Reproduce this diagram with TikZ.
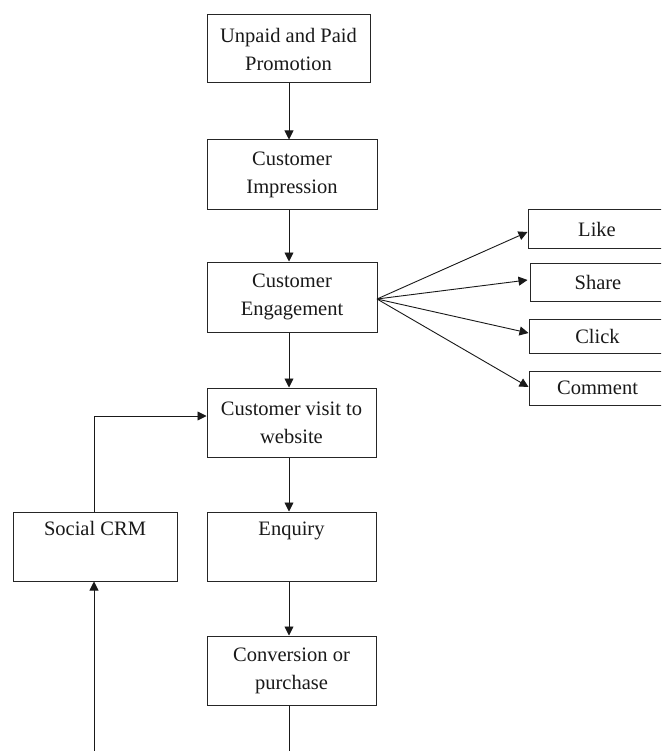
\documentclass[tikz,border=0pt]{standalone}
\usepackage{fontspec}
\setmainfont{Liberation Serif}
\usetikzlibrary{arrows.meta,calc}
\tikzset{
  box/.style={draw=black!85, line width=1pt, rectangle, align=center, inner sep=2pt,
    font=\fontsize{20.5pt}{28pt}\selectfont, text=black!90},
  arr/.style={line width=0.9pt, draw=black!90, -{Triangle[length=9pt,width=9pt]}},
  ln/.style={line width=0.9pt, draw=black!90}
}
\begin{document}
\begin{tikzpicture}[x=1pt,y=-1pt]
\clip (0,0) rectangle (661,751);
\fill[white] (0,0) rectangle (661,751);
\node[box, minimum width=163pt, minimum height=68pt] (u) at (288.5,49) {Unpaid and Paid\\Promotion};
\node[box, minimum width=170pt, minimum height=70pt] (imp) at (292,175) {Customer\\Impression};
\node[box, minimum width=170pt, minimum height=70pt] (eng) at (292,297) {Customer\\Engagement};
\node[box, minimum width=169pt, minimum height=69pt] (vis) at (291.5,422.5) {Customer visit to\\website};
\node[box, minimum width=169pt, minimum height=69pt] (enq) at (291.5,546.5) {Enquiry\\\strut};
\node[box, minimum width=164pt, minimum height=69pt] (crm) at (95,546.5) {Social CRM\\\strut};
\node[box, minimum width=169pt, minimum height=69pt] (conv) at (291.5,670.5) {Conversion or\\purchase};
\node[box, minimum width=138pt, minimum height=38pt] (like) at (597,229) {Like};
\node[box, minimum width=136pt, minimum height=38pt] (share) at (598,282) {Share};
\node[box, minimum width=137pt, minimum height=34pt] (click) at (597.5,336) {Click};
\node[box, minimum width=137pt, minimum height=34pt] (comment) at (597.5,388) {Comment};
\coordinate (fan) at (377,299);
\coordinate (b1) at (289,760);
\coordinate (b2) at (94,760);
\draw[arr] (u.south -| 289,0) -- (imp.north -| 289,0);
\draw[arr] (imp.south -| 289,0) -- (eng.north -| 289,0);
\draw[arr] (eng.south -| 289,0) -- (vis.north -| 289,0);
\draw[arr] (vis.south -| 289,0) -- (enq.north -| 289,0);
\draw[arr] (enq.south -| 289,0) -- (conv.north -| 289,0);
\draw[ln] (conv.south -| 289,0) -- (b1);
\draw[arr] (b2) -- (crm.south -| b2);
\draw[arr] (crm.north -| b2) |- ($(vis.west)+(0,-6.5)$);
\draw[arr] (fan) -- ($(like.west)+(0,3)$);
\draw[arr] (fan) -- ($(share.west)+(-2,-2)$);
\draw[arr] (fan) -- ($(click.west)+(0,-3)$);
\draw[arr] (fan) -- ($(comment.west)+(0,-1)$);
\end{tikzpicture}
\end{document}
